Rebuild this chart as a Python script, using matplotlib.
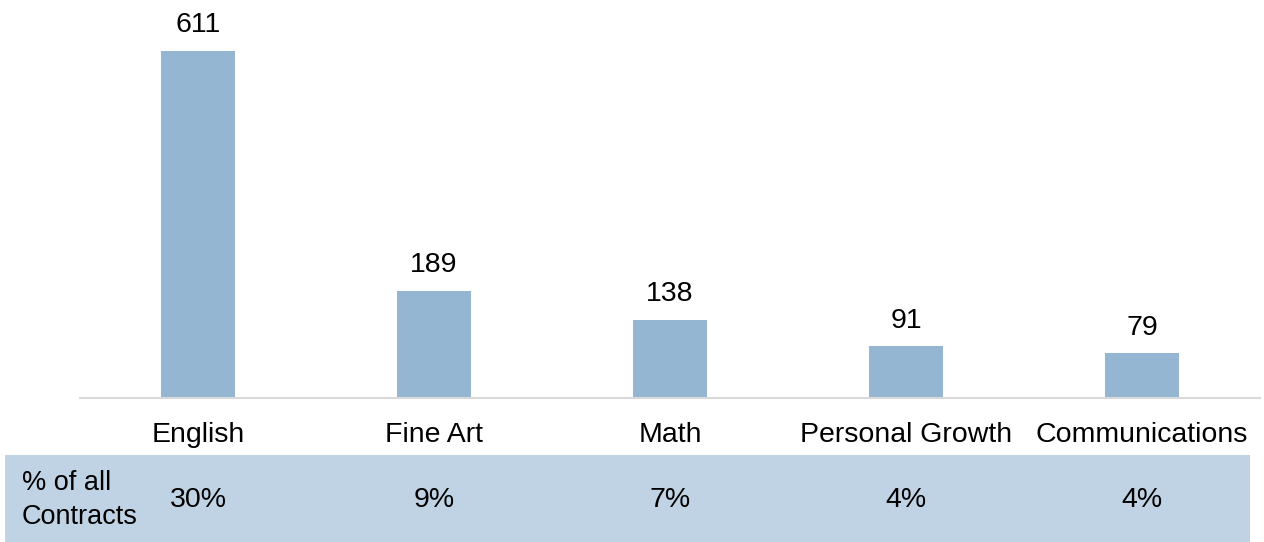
import matplotlib.pyplot as plt
import matplotlib.patches as patches
import matplotlib.transforms as mtransforms

plt.rcParams['font.family'] = ['Liberation Sans', 'DejaVu Sans']

categories = ["English", "Fine Art", "Math", "Personal Growth", "Communications"]
contracts = [611, 189, 138, 91, 79]
share_labels = ["30%", "9%", "7%", "4%", "4%"]

W, H = 1264, 542
fig = plt.figure(figsize=(W / 100, H / 100), dpi=100)

# shaded table band behind everything
band = patches.Rectangle((5 / W, 0), 1245 / W, 87 / H, transform=fig.transFigure,
                         facecolor="#C0D3E4", edgecolor="none", zorder=-1)
fig.patches.append(band)

# axes placed in pixel terms: baseline at y=398 px from top, spans x 80..1260
ax = fig.add_axes([80 / W, (H - 398) / H, 1180 / W, 398 / H])
x = range(len(categories))
ax.bar(x, contracts, width=0.314, color="#95B6D3", zorder=2)
ax.set_xlim(-0.5, 4.5)
ax.set_ylim(0, 700)

for xi, v in zip(x, contracts):
    ax.annotate(str(v), (xi, v), xytext=(0, 9), textcoords="offset points",
                ha="center", va="bottom", fontsize=20.5)

for s in ["top", "left", "right"]:
    ax.spines[s].set_visible(False)
ax.spines["bottom"].set_color("#D9D9D9")
ax.spines["bottom"].set_linewidth(1.5)
ax.set_yticks([])
ax.set_xticks(list(x))
ax.set_xticklabels(categories, fontsize=20.5)
ax.tick_params(axis="x", length=0, pad=17)

trans = mtransforms.blended_transform_factory(ax.transData, fig.transFigure)
for xi, s in zip(x, share_labels):
    fig.text(xi, (H - 500) / H, s, transform=trans, ha="center", va="center",
             fontsize=20.5)

fig.text(22 / W, (H - 500) / H, "% of all\nContracts", ha="left", va="center",
         fontsize=19.5, linespacing=1.45)

plt.savefig("out.png", dpi=100)
